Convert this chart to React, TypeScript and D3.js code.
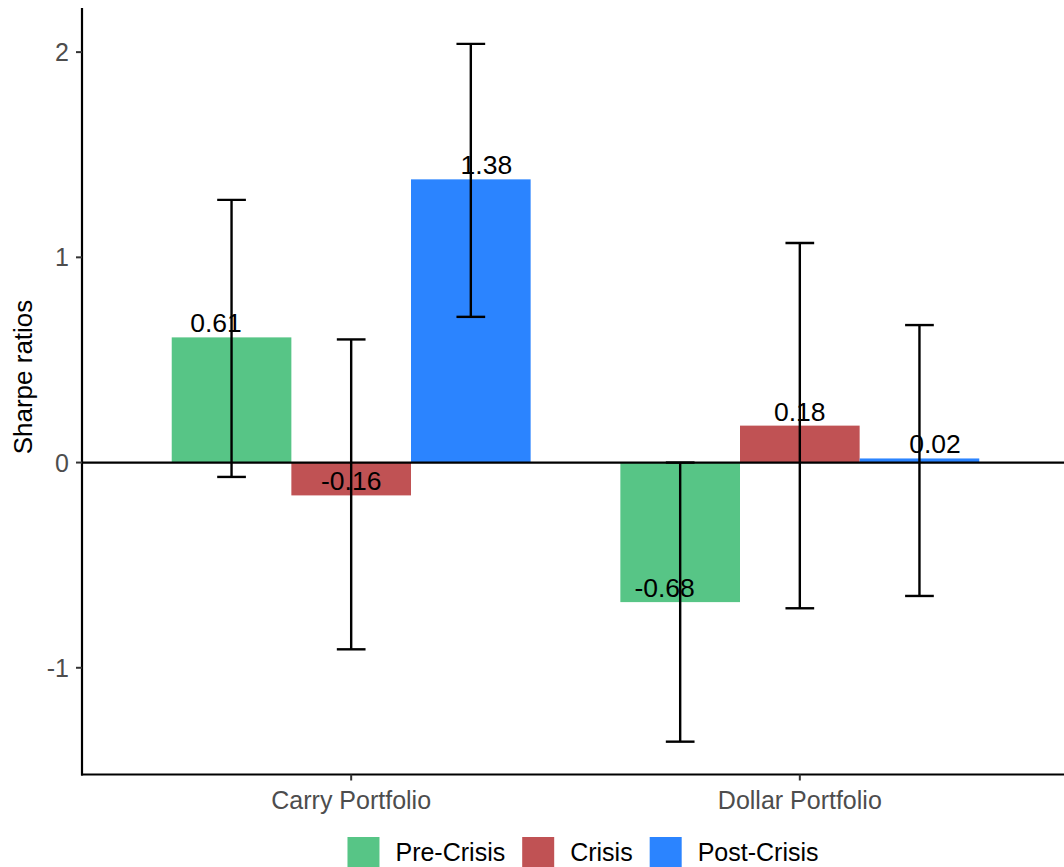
import React from "react";
import * as d3 from "d3";

const portfolios = ["Carry Portfolio", "Dollar Portfolio"];
const periods = ["Pre-Crisis", "Crisis", "Post-Crisis"];
const periodColors = ["#57C586", "#C05254", "#2B84FF"];

const sharpeCarry = [0.61, -0.16, 1.38];
const sharpeDollar = [-0.68, 0.18, 0.02];
const lowerCarry = [-0.07, -0.91, 0.71];
const upperCarry = [1.28, 0.6, 2.04];
const lowerDollar = [-1.36, -0.71, -0.65];
const upperDollar = [0.0, 1.07, 0.67];
const yTicks = [-1, 0, 1, 2];

const W = 1064;
const H = 867;
const FONT = "'Liberation Sans', Arial, Helvetica, sans-serif";

type Row = { portfolio: string; period: string; value: number; lo: number; hi: number };

const rows: Row[] = [];
portfolios.forEach((p, gi) => {
  const vals = gi === 0 ? sharpeCarry : sharpeDollar;
  const los = gi === 0 ? lowerCarry : lowerDollar;
  const his = gi === 0 ? upperCarry : upperDollar;
  periods.forEach((per, i) => {
    rows.push({ portfolio: p, period: per, value: vals[i], lo: los[i], hi: his[i] });
  });
});

function measure(text: string, size: number) {
  const c = document.createElement("canvas").getContext("2d")!;
  c.font = `${size}px ${FONT}`;
  return c.measureText(text).width;
}

export default function App() {
  const panelLeft = 82;
  const panelRight = 1069;
  const panelTop = 8;
  const panelBottom = 774.5;

  const x = d3.scaleBand<string>().domain(portfolios).range([panelLeft, panelRight]).paddingInner(0.2).paddingOuter(0.2);
  const xs = d3.scaleBand<string>().domain(periods).range([0, x.bandwidth()]).padding(0);
  const y = d3.scaleLinear().domain([-1.52, 2.215]).range([panelBottom, panelTop]);
  const color = d3.scaleOrdinal<string, string>().domain(periods).range(periodColors);

  const capW = xs.bandwidth() * 0.24;

  // legend layout
  const fs = 25;
  const keyW = 32;
  const keyH = 30;
  const gapKT = 16;
  const gapItems = 17;
  const items = periods.map((p) => ({ p, tw: measure(p, fs) }));
  const total = items.reduce((s, it) => s + keyW + gapKT + it.tw, 0) + gapItems * (items.length - 1);
  let cx = 583 - total / 2;
  const legendItems = items.map((it) => {
    const o = { ...it, x: cx };
    cx += keyW + gapKT + it.tw + gapItems;
    return o;
  });

  return (
    <svg width={W} height={H} style={{ position: "absolute", left: 0, top: 0, background: "#fff" }} fontFamily={FONT}>
      <defs>
        <clipPath id="panel">
          <rect x={panelLeft} y={panelTop} width={panelRight - panelLeft} height={panelBottom - panelTop} />
        </clipPath>
      </defs>
      <g clipPath="url(#panel)">
        {rows.map((r, i) => {
          const bx = x(r.portfolio)! + xs(r.period)!;
          const y0 = y(0);
          const yv = y(r.value);
          return (
            <rect key={i} x={bx} width={xs.bandwidth()} y={Math.min(y0, yv)} height={Math.abs(yv - y0)} fill={color(r.period)} />
          );
        })}
        <line x1={panelLeft} x2={panelRight} y1={y(0)} y2={y(0)} stroke="#000" strokeWidth={2.2} />
        {rows.map((r, i) => {
          const gc = x(r.portfolio)! + x.bandwidth() / 2;
          const bc = x(r.portfolio)! + xs(r.period)! + xs.bandwidth() / 2;
          const tx = gc + (bc - gc) * 1.13;
          return (
            <text key={i} x={tx} y={y(r.value) - 5} textAnchor="middle" fontSize={26.5} fill="#000">
              {r.value.toFixed(2)}
            </text>
          );
        })}
        {rows.map((r, i) => {
          const bc = x(r.portfolio)! + xs(r.period)! + xs.bandwidth() / 2;
          return (
            <g key={i} stroke="#000" strokeWidth={2.4}>
              <line x1={bc} x2={bc} y1={y(r.lo)} y2={y(r.hi)} />
              <line x1={bc - capW / 2} x2={bc + capW / 2} y1={y(r.lo)} y2={y(r.lo)} />
              <line x1={bc - capW / 2} x2={bc + capW / 2} y1={y(r.hi)} y2={y(r.hi)} />
            </g>
          );
        })}
      </g>
      {/* axes */}
      <line x1={panelLeft} x2={panelLeft} y1={panelTop} y2={panelBottom + 1} stroke="#000" strokeWidth={2.2} />
      <line x1={panelLeft - 1} x2={panelRight} y1={panelBottom} y2={panelBottom} stroke="#000" strokeWidth={2.2} />
      {yTicks.map((t) => (
        <g key={t}>
          <line x1={panelLeft - 6} x2={panelLeft} y1={y(t)} y2={y(t)} stroke="#333" strokeWidth={2} />
          <text x={69} y={y(t)} dy="0.36em" textAnchor="end" fontSize={25} fill="#4D4D4D">
            {t}
          </text>
        </g>
      ))}
      {portfolios.map((p) => {
        const c = x(p)! + x.bandwidth() / 2;
        return (
          <g key={p}>
            <line x1={c} x2={c} y1={panelBottom} y2={panelBottom + 6} stroke="#333" strokeWidth={2} />
            <text x={c} y={809} textAnchor="middle" fontSize={25} fill="#4D4D4D">
              {p}
            </text>
          </g>
        );
      })}
      <text transform={`translate(32, 377) rotate(-90)`} textAnchor="middle" fontSize={26} fill="#000">
        Sharpe ratios
      </text>
      {legendItems.map((it, i) => (
        <g key={it.p}>
          <rect x={it.x} y={837} width={keyW} height={keyH} fill={periodColors[i]} />
          <text x={it.x + keyW + gapKT} y={861} fontSize={fs} fill="#000">
            {it.p}
          </text>
        </g>
      ))}
    </svg>
  );
}
